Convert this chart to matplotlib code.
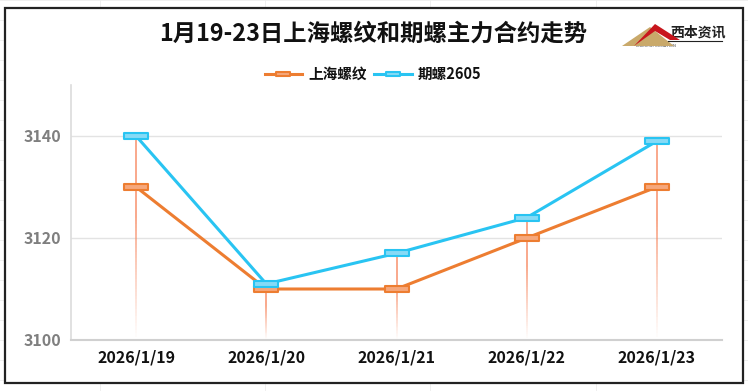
import numpy as np
import matplotlib
matplotlib.use("Agg")
import matplotlib.pyplot as plt
from matplotlib.path import Path
from matplotlib.collections import LineCollection
from matplotlib.patches import Rectangle, Polygon

plt.rcParams['font.family'] = ['Noto Sans CJK SC', 'DejaVu Sans']

# Data
dates = ["2026/1/19", "2026/1/20", "2026/1/21", "2026/1/22", "2026/1/23"]
shanghai = [3130, 3110, 3110, 3120, 3130]
futures = [3140, 3111, 3117, 3124, 3139]
series_names = ["上海螺纹", "期螺2605"]
title = "1月19-23日上海螺纹和期螺主力合约走势"
y_ticks = [3100, 3120, 3140]

orange = "#ED7D31"
orange_fill = "#F6A77C"
blue = "#29C4F2"
blue_fill = "#86DAF6"

fig = plt.figure(figsize=(7.48, 3.91), dpi=100)
fig.patch.set_facecolor("white")

# Excel-like sheet lines outside the chart frame
for yy in np.arange(0, 391, 20):
    fig.add_artist(plt.Line2D([0, 1], [1 - yy / 391] * 2, color="#ececec", lw=0.6, zorder=0))
for xx in [100, 265, 430, 596, 748]:
    fig.add_artist(plt.Line2D([xx / 748] * 2, [0, 1], color="#ececec", lw=0.6, zorder=0))
frame = Rectangle((5 / 748, 1 - 383 / 391), 738 / 748, 375 / 391, transform=fig.transFigure,
                  facecolor="white", edgecolor="#222222", lw=1.6, zorder=1)
fig.add_artist(frame)

ax = fig.add_axes([71 / 748, 1 - 340 / 391, 651 / 748, 255 / 391])
ax.set_facecolor("none")
ax.set_zorder(2)
x = np.arange(len(dates))

# gradient drop lines from top series down to axis
ymin, ymax = 3100, 3150
for i in x:
    top = max(shanghai[i], futures[i])
    n = 60
    ys = np.linspace(ymin, top, n + 1)
    segs = [[(i, ys[k]), (i, ys[k + 1])] for k in range(n)]
    t = (ys[:-1] - ymin) / (top - ymin)
    alphas = np.clip(t / 0.6, 0, 1) * 0.9
    cols = [(0.97, 0.52, 0.36, a) for a in alphas]
    ax.add_collection(LineCollection(segs, colors=cols, linewidths=1.1, zorder=2))

rect = Path([(-2, -0.5), (2, -0.5), (2, 0.5), (-2, 0.5), (-2, -0.5)],
            [Path.MOVETO, Path.LINETO, Path.LINETO, Path.LINETO, Path.CLOSEPOLY])

ax.plot(x, shanghai, color=orange, lw=2.2, marker=rect, markersize=17,
        markerfacecolor=orange_fill, markeredgecolor=orange, markeredgewidth=1.5,
        label=series_names[0], zorder=3)
ax.plot(x, futures, color=blue, lw=2.2, marker=rect, markersize=17,
        markerfacecolor=blue_fill, markeredgecolor=blue, markeredgewidth=1.5,
        label=series_names[1], zorder=4)

ax.set_xlim(-0.5, len(dates) - 0.5)
ax.set_ylim(ymin, ymax)
ax.set_yticks(y_ticks)
ax.set_yticklabels([str(v) for v in y_ticks], fontsize=11.5, fontweight="bold", color="#7f7f7f")
ax.set_xticks(x)
ax.set_xticklabels(dates, fontsize=11.5, fontweight="bold", color="#111111")
ax.tick_params(length=0, pad=7)
ax.tick_params(axis="y", pad=7)
ax.grid(axis="y", color="#e3e3e3", lw=1)
ax.set_axisbelow(True)
for s in ["top", "right"]:
    ax.spines[s].set_visible(False)
ax.spines["left"].set_color("#dcdcdc")
ax.spines["bottom"].set_color("#d0d0d0")
ax.spines["left"].set_linewidth(1.2)
ax.spines["bottom"].set_linewidth(1.5)

fig.text(373 / 748, 1 - 34 / 391, title, ha="center", va="center",
         fontsize=16.8, fontweight="bold", color="#111111")

leg = fig.legend(loc="center", bbox_to_anchor=(373 / 748, 1 - 74 / 391), ncol=2,
                 frameon=False, prop={"size": 10.5, "weight": "bold"},
                 handlelength=2.6, columnspacing=0.5, handletextpad=0.4, markerscale=0.6)
for txt in leg.get_texts():
    txt.set_color("#111111")

# logo
fig.add_artist(Polygon([(622 / 748, 1 - 46 / 391), (650 / 748, 1 - 27 / 391), (674 / 748, 1 - 46 / 391)],
                       closed=True, transform=fig.transFigure, facecolor="#c9a96a", edgecolor="none", zorder=5))
fig.add_artist(Polygon([(634 / 748, 1 - 46 / 391), (655 / 748, 1 - 24 / 391), (680 / 748, 1 - 40 / 391),
                        (670 / 748, 1 - 40 / 391), (655 / 748, 1 - 31 / 391)],
                       closed=True, transform=fig.transFigure, facecolor="#c8161d", edgecolor="none", zorder=5))
fig.text(670 / 748, 1 - 32 / 391, "西本资讯", fontsize=10, fontweight="bold", color="#222222",
         ha="left", va="center", style="italic")
fig.add_artist(plt.Line2D([668 / 748, 722 / 748], [1 - 41 / 391] * 2, color="#222222", lw=0.8, zorder=5))
fig.text(636 / 748, 1 - 46 / 391, "XIBEN INFORMATION", fontsize=3, color="#444444", ha="left", va="center")

fig.savefig("out.png", dpi=100)
